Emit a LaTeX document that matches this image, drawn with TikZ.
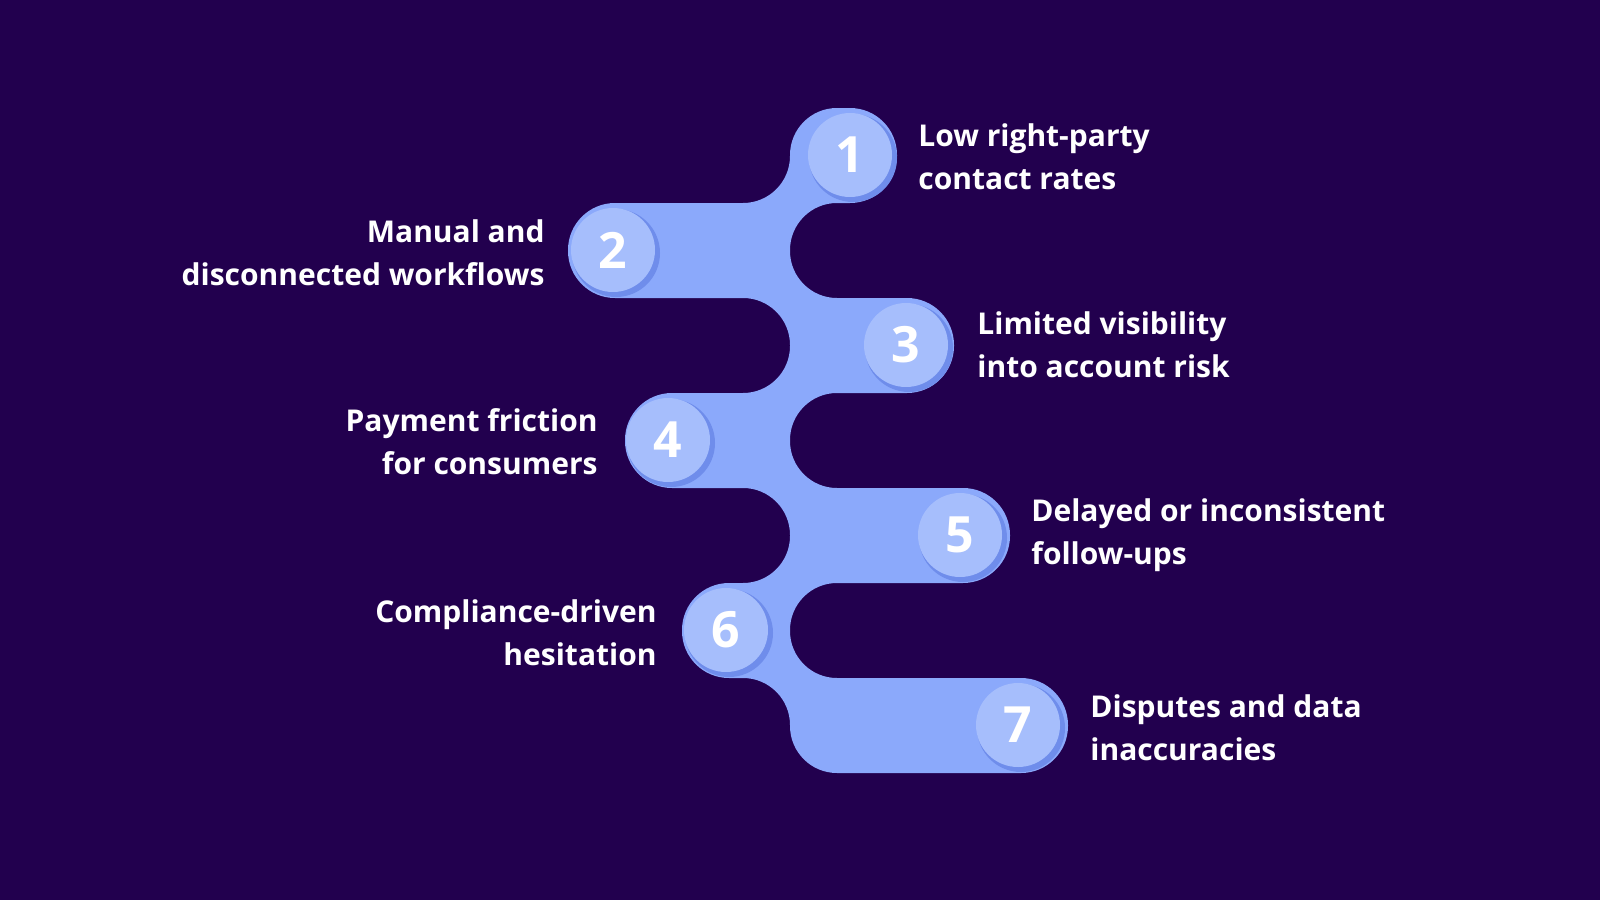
\documentclass[tikz,border=0pt]{standalone}
\usepackage{fontspec}
\setmainfont{Open Sans}
\usetikzlibrary{positioning}
\definecolor{bgpurple}{HTML}{22004E}
\definecolor{bandblue}{HTML}{8BA9FB}
\definecolor{discblue}{HTML}{A6BEFC}
\definecolor{rimblue}{HTML}{6F8DEB}
\tikzset{
  stepdisc/.style={circle, fill=discblue, minimum size=42pt, inner sep=0pt, text=white, font=\fontsize{25}{25}\selectfont\bfseries},
  rim/.style={circle, fill=rimblue, minimum size=44pt, inner sep=0pt},
  lbl/.style={text=white, font=\fontsize{15}{21.5}\selectfont\bfseries, inner sep=0pt},
  lblr/.style={lbl, anchor=west, align=left},
  lbll/.style={lbl, anchor=east, align=right},
}
\begin{document}
\begin{tikzpicture}[x=0.5pt, y=-0.5pt]
\fill[bgpurple] (0,0) rectangle (1600,900);
\useasboundingbox (0,0) rectangle (1600,900);

% the winding band
\fill[bandblue, rounded corners=23.5pt]
  (790,108) -- (897,108) -- (897,203) -- (790,203) -- (790,298) -- (954,298) -- (954,393)
  -- (790,393) -- (790,488) -- (1010,488) -- (1010,583) -- (790,583) -- (790,678)
  -- (1068,678) -- (1068,773) -- (790,773) -- (790,678) -- (682,678) -- (682,583)
  -- (790,583) -- (790,488) -- (625,488) -- (625,393) -- (790,393) -- (790,298)
  -- (568,298) -- (568,203) -- (790,203) -- cycle;

\node[rim] at (853,158) {};
\node[rim] at (616,253) {};
\node[rim] at (909,348) {};
\node[rim] at (671,443) {};
\node[rim] at (963,538) {};
\node[rim] at (729,633) {};
\node[rim] at (1021,728) {};

\node[stepdisc] at (850,155) (n1) {1};
\node[stepdisc] at (613,250) (n2) {2};
\node[stepdisc] at (906,345) (n3) {3};
\node[stepdisc] at (668,440) (n4) {4};
\node[stepdisc] at (960,535) (n5) {5};
\node[stepdisc] at (726,630) (n6) {6};
\node[stepdisc] at (1018,725) (n7) {7};

\node[lblr] at (918,157) (l1) {Low right-party\\contact rates};
\node[lbll] at (545,253) (l2) {Manual and\\disconnected workflows};
\node[lblr] at (977,345) (l3) {Limited visibility\\into account risk};
\node[lbll] at (598,442) (l4) {Payment friction\\for consumers};
\node[lblr] at (1031,535) (l5) {Delayed or inconsistent\\follow-ups};
\node[lbll] at (657,633) (l6) {Compliance-driven\\hesitation};
\node[lblr] at (1090,728) (l7) {Disputes and data\\inaccuracies};
\end{tikzpicture}
\end{document}
